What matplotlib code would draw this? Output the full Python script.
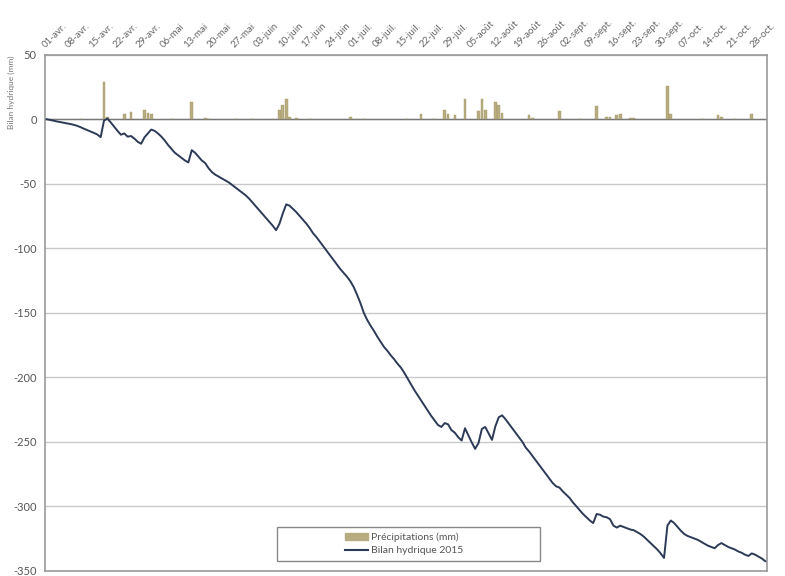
import matplotlib
matplotlib.use("Agg")
import matplotlib.pyplot as plt
from matplotlib.patches import Patch, Rectangle
from matplotlib.lines import Line2D

plt.rcParams['font.family'] = ['Lato', 'DejaVu Sans']

tick_labels = ["01-avr.", "08-avr.", "15-avr.", "22-avr.", "29-avr.", "06-mai", "13-mai",
               "20-mai", "27-mai", "03-juin", "10-juin", "17-juin", "24-juin", "01-juil.",
               "08-juil.", "15-juil.", "22-juil.", "29-juil.", "05-août", "12-août", "19-août",
               "26-août", "02-sept.", "09-sept.", "16-sept.", "23-sept.", "30-sept.", "07-oct.",
               "14-oct.", "21-oct.", "28-oct."]

# day index (0 = 01-avr., 213 = 31-oct.) and daily precipitation (mm)
precip_days = [10, 17, 18, 23, 25, 29, 30, 31, 37, 43, 47, 48, 56, 61, 67, 69, 70, 71, 72, 74,
               78, 90, 92, 94, 107, 111, 115, 118, 119, 121, 124, 128, 129, 130, 133, 134, 135,
               143, 144, 152, 158, 163, 166, 167, 169, 170, 173, 174, 184, 185, 194, 199, 200,
               204, 209]
precip_mm = [0.5, 29, 2, 4, 5.5, 7, 5, 4, 0.5, 13, 1, 0.5, 0.5, 0.5, 0.5, 7, 11, 16, 2, 1,
             0.5, 2, 0.5, 0.5, 0.5, 4, 0.5, 7, 4, 3, 16, 6, 16, 7, 13, 11, 5,
             3, 1, 6, 0.5, 10, 2, 2, 3, 4, 1, 1, 26, 4, 0.5, 3, 2, 0.5, 4]

# daily water balance 2015 (mm), 01-avr. .. 31-oct.
bilan = [
    0.0, -0.5, -1.1, -1.7, -2.2, -2.7, -3.2, -3.7, -4.3, -5.1,
    -6.1, -7.3, -8.4, -9.5, -10.6, -11.8, -13.9, -1.0, 0.5, -2.5,
    -5.8, -9.0, -12.0, -11.0, -13.5, -13.0, -15.0, -17.5, -19.0, -14.0,
    -11.0, -8.0, -9.0, -11.0, -13.5, -16.5, -20.0, -23.0, -26.0, -28.0,
    -30.0, -32.0, -33.5, -24.0, -26.0, -29.0, -32.0, -34.0, -38.0, -41.0,
    -43.0, -44.5, -46.0, -47.5, -49.0, -51.0, -53.0, -55.0, -57.0, -59.0,
    -61.5, -64.5, -67.5, -70.5, -73.5, -76.5, -79.5, -82.5, -86.0, -81.0,
    -73.0, -66.0, -67.0, -69.5, -72.0, -75.0, -78.0, -81.0, -84.5, -88.5,
    -91.5, -95.0, -98.5, -102.0, -105.5, -109.0, -112.5, -116.0, -119.0, -122.0,
    -125.5, -130.0, -136.0, -142.5, -150.0, -155.5, -160.0, -164.0, -168.5, -172.5,
    -176.5, -179.5, -183.0, -186.0, -189.5, -192.5, -196.5, -201.0, -205.5, -210.0,
    -214.0, -218.0, -222.0, -226.0, -230.0, -233.5, -237.0, -238.5, -235.5, -236.5,
    -241.0, -243.0, -246.5, -249.0, -239.5, -245.0, -250.5, -255.5, -251.0, -240.0,
    -238.5, -243.5, -248.5, -238.0, -231.0, -229.5, -232.5, -236.0, -239.5, -243.0,
    -246.5, -250.0, -254.5, -257.5, -261.0, -264.5, -268.0, -271.5, -275.0, -278.5,
    -282.0, -284.5, -285.5, -288.5, -291.0, -293.5, -297.0, -300.0, -303.0, -306.0,
    -308.5, -311.0, -313.0, -306.0, -306.5, -308.0, -308.5, -310.0, -315.0, -316.5,
    -315.0, -316.0, -317.0, -318.0, -318.5, -320.0, -321.5, -323.5, -326.0, -328.5,
    -331.0, -333.5, -336.5, -340.0, -315.0, -311.0, -313.0, -316.0, -319.0, -321.5,
    -323.0, -324.0, -325.0, -326.0, -327.5, -329.0, -330.5, -331.5, -332.5, -330.0,
    -328.5, -330.0, -331.5, -332.5, -333.5, -335.0, -336.0, -337.5, -338.5, -336.5,
    -337.5, -339.0, -340.5, -342.5,
]

bar_color = '#b7ad80'
line_color = '#2c3a56'

fig = plt.figure(figsize=(7.85, 5.76), dpi=100)
ax = fig.add_axes([0.0573, 0.009, 0.9197, 0.896])

ax.bar(precip_days, precip_mm, width=0.8, color=bar_color, edgecolor='#a59868',
       linewidth=0.3, zorder=3)
ax.plot(range(len(bilan)), bilan, color=line_color, linewidth=1.4, zorder=4)

ax.set_xlim(-0.5, len(bilan) - 0.5)
ax.set_ylim(-350, 50)
ax.set_yticks(range(-350, 51, 50))
ax.set_yticklabels([str(v) for v in range(-350, 51, 50)], fontsize=8, color='#555555')
ax.grid(axis='y', color='#c8c8c8', linewidth=1.0, zorder=0)
ax.axhline(0, color='#777777', linewidth=1.0, zorder=2)
ax.tick_params(axis='y', length=0, pad=6)

ax.xaxis.tick_top()
ax.set_xticks(range(0, 211, 7))
ax.set_xticklabels(tick_labels, rotation=45, ha='left', va='bottom',
                   rotation_mode='anchor', fontsize=7, color='#666666')
ax.tick_params(axis='x', length=0, pad=4)

for s in ax.spines.values():
    s.set_color('#999999')
    s.set_linewidth(1.2)

fig.text(0.015, 0.84, 'Bilan hydrique (mm)', rotation=90, fontsize=6,
         color='#777777', ha='center', va='center')

# legend frame (wide box as in the reference)
ax.add_patch(Rectangle((0.321, 0.019), 0.364, 0.066, transform=ax.transAxes,
                       facecolor='white', edgecolor='#888888', linewidth=1.0, zorder=5))
handles = [Patch(facecolor=bar_color, edgecolor=bar_color),
           Line2D([0], [0], color=line_color, linewidth=1.5)]
leg = ax.legend(handles, ['Précipitations (mm)', 'Bilan hydrique 2015'],
                loc='center left', bbox_to_anchor=(0.405, 0.052), fontsize=7.5,
                frameon=False, handlelength=2.2, handleheight=0.6, handletextpad=0.3,
                borderpad=0.2, labelspacing=0.35, labelcolor='#555555')
leg.set_zorder(6)

fig.savefig('out.png', dpi=100)
